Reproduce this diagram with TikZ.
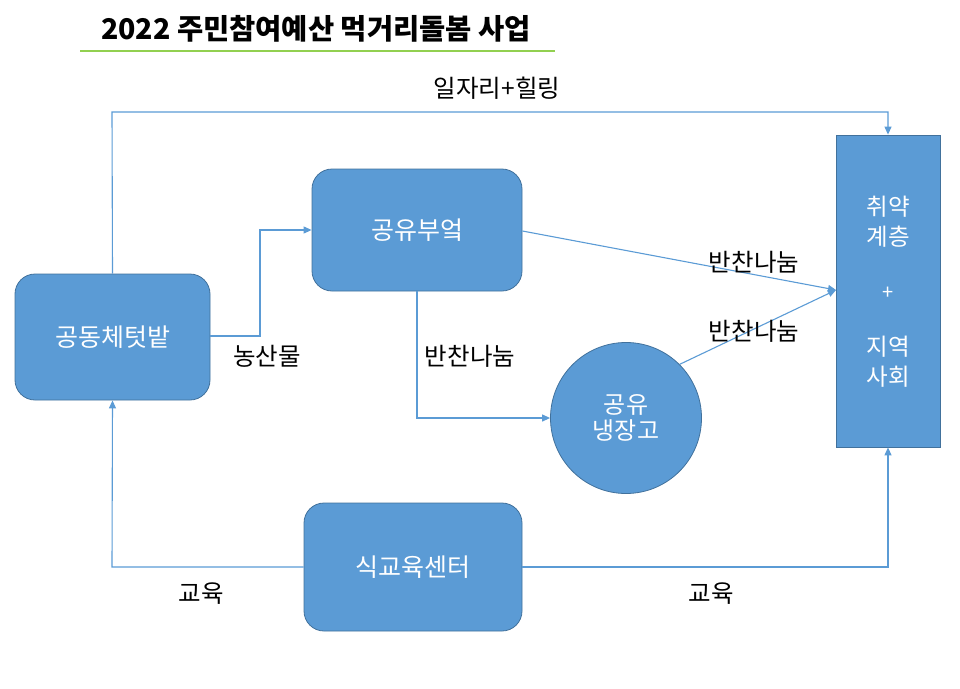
\documentclass[tikz,border=0pt]{standalone}
\usepackage{fontspec}
\setmainfont{Noto Sans CJK KR}
\usetikzlibrary{arrows.meta}
\definecolor{boxblue}{HTML}{5B9BD5}
\definecolor{boxedge}{HTML}{41719C}
\definecolor{titlegreen}{HTML}{92D050}
\tikzset{
  box/.style={draw=boxedge, fill=boxblue, line width=0.8pt, text=white, font=\fontsize{25}{30}\selectfont, align=center, inner sep=0pt},
  rbox/.style={box, rounded corners=20pt},
  conn/.style={draw=boxblue, line width=1.1pt, -{Triangle[length=8pt,width=7pt]}},
  lbl/.style={font=\fontsize{24.5}{28}\selectfont, text=black, inner sep=0pt},
  wtxt/.style={text=white, font=\fontsize{23.5}{30}\selectfont, align=center, inner sep=0pt}
}
\begin{document}
\begin{tikzpicture}[x=1pt,y=-1pt]
\useasboundingbox (0,0) rectangle (960,688);
% title
\node[font=\fontsize{28.5}{32}\selectfont\bfseries, inner sep=0pt] (title) at (316,29) {2022 주민참여예산 먹거리돌봄 사업};
\draw[titlegreen, line width=2.2pt] (80,51) -- (555,51);
% nodes
\node[rbox, minimum width=195pt, minimum height=126pt] (garden) at (112.5,337) {공동체텃밭};
\node[rbox, minimum width=210pt, minimum height=122pt] (kitchen) at (417,230) {공유부엌};
\node[box, circle, minimum size=151pt, font=\fontsize{24}{26}\selectfont] (fridge) at (626,418) {공유\\냉장고};
\node[rbox, minimum width=218pt, minimum height=128pt] (edu) at (413,567) {식교육센터};
\node[box, minimum width=104pt, minimum height=312pt] (comm) at (888,291) {};
\node[wtxt] (t1) at (888,222) {취약\\계층};
\node[text=white, font=\fontsize{20}{20}\selectfont, inner sep=0pt] (t2) at (888,293) {+};
\node[wtxt] (t3) at (888,362) {지역\\사회};
% coordinates
\coordinate (c1) at (112,112);
\coordinate (c2) at (888,112);
\coordinate (c3) at (260,336);
\coordinate (c4) at (260,230);
\coordinate (c5) at (417,418);
\coordinate (c6) at (112,567);
\coordinate (c7) at (888,567);
\coordinate (ctarget) at (836,290);
% connectors
\draw[conn] (garden.north) -- (c1) -- (c2) -- (comm.north);
\draw[conn] (garden.east |- c3) -- (c3) -- (c4) -- (kitchen.west |- c4);
\draw[conn] (kitchen.east |- 0,231) -- (ctarget);
\draw[conn] (fridge.45) -- (ctarget);
\draw[conn] (kitchen.south) -- (c5) -- (fridge.west);
\draw[conn] (edu.west) -- (c6) -- (garden.south);
\draw[conn] (edu.east) -- (c7) -- (comm.south);
% labels
\node[lbl] (l1) at (497,88) {일자리+힐링};
\node[lbl] (l2) at (267,356) {농산물};
\node[lbl] (l3) at (754,262) {반찬나눔};
\node[lbl] (l4) at (754,331) {반찬나눔};
\node[lbl] (l5) at (470,356) {반찬나눔};
\node[lbl] (l6) at (201,594) {교육};
\node[lbl] (l7) at (711,594) {교육};
\end{tikzpicture}
\end{document}
